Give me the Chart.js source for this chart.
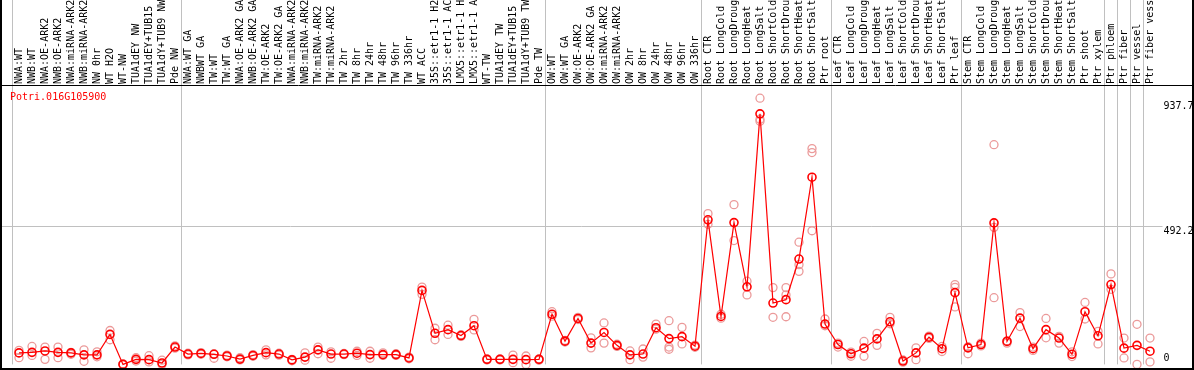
<!DOCTYPE html>
<html>
<head>
<meta charset="utf-8">
<script src="https://cdn.jsdelivr.net/npm/chart.js@4"></script>
<style>
html, body { margin: 0; padding: 0; background: #fff; }
#wrap { width: 1194px; height: 370px; }
</style>
</head>
<body>
<div id="wrap"><canvas id="chart-efp" width="1194" height="370"></canvas></div>
<script>
let geneName = 'Potri.016G105900';

let samples = [
  // NW
  'NWA:WT', 'NWB:WT', 'NWA:OE-ARK2', 'NWB:OE-ARK2', 'NWA:miRNA-ARK2', 'NWB:miRNA-ARK2', 'NW 0hr', 'WT H2O', 'WT-NW',
  'TUA1dEY NW', 'TUA1dEY+TUB15 NW', 'TUA1dY+TUB9 NW', 'Pde NW',
  // TW
  'NWA:WT GA', 'NWBWT GA', 'TW:WT', 'TW:WT GA', 'NWA:OE-ARK2 GA', 'NWB:OE-ARK2 GA', 'TW:OE-ARK2', 'TW:OE-ARK2 GA',
  'NWA:miRNA-ARK2', 'NWB:miRNA-ARK2', 'TW:miRNA-ARK2', 'TW:miRNA-ARK2', 'TW 2hr', 'TW 8hr', 'TW 24hr', 'TW 48hr',
  'TW 96hr', 'TW 336hr', 'WT ACC', '35S::etr1-1 H2O', '35S::etr1-1 ACC', 'LMX5::etr1-1 H2O', 'LMX5::etr1-1 ACC',
  'WT-TW', 'TUA1dEY TW', 'TUA1dEY+TUB15 TW', 'TUA1dY+TUB9 TW', 'Pde TW',
  // OW
  'OW:WT', 'OW:WT GA', 'OW:OE-ARK2', 'OW:OE-ARK2 GA', 'OW:miRNA-ARK2', 'OW:miRNA-ARK2', 'OW 2hr', 'OW 8hr',
  'OW 24hr', 'OW 48hr', 'OW 96hr', 'OW 336hr',
  // root
  'Root CTR', 'Root LongCold', 'Root LongDrought', 'Root LongHeat', 'Root LongSalt', 'Root ShortCold',
  'Root ShortDrought', 'Root ShortHeat', 'Root ShortSalt', 'Ptr root',
  // leaf
  'Leaf CTR', 'Leaf LongCold', 'Leaf LongDrought', 'Leaf LongHeat', 'Leaf LongSalt', 'Leaf ShortCold',
  'Leaf ShortDrought', 'Leaf ShortHeat', 'Leaf ShortSalt', 'Ptr leaf',
  // stem
  'Stem CTR', 'Stem LongCold', 'Stem LongDrought', 'Stem LongHeat', 'Stem LongSalt', 'Stem ShortCold',
  'Stem ShortDrought', 'Stem ShortHeat', 'Stem ShortSalt', 'Ptr shoot', 'Ptr xylem',
  // single tissues
  'Ptr phloem', 'Ptr fiber', 'Ptr vessel', 'Ptr fiber vessel'
];

let meanValues = [
  41, 43, 48, 43, 41, 34, 34, 107, 0, 18, 17, 5, 62,
  37, 39, 36, 30, 19, 32, 42, 37, 16, 26, 52, 37, 37, 40, 35, 35, 35, 23, 264, 111, 124, 103, 138, 18, 18, 18, 17, 18,
  179, 83, 164, 76, 114, 68, 34, 37, 131, 92, 99, 65,
  516, 171, 506, 277, 894, 219, 231, 376, 668, 144,
  71, 38, 58, 91, 152, 12, 41, 97, 56, 256,
  59, 71, 505, 82, 165, 56, 124, 94, 36, 188, 102,
  285, 58, 68, 47
];

// replicate values (pale circles)
let repHigh = [
  50, 64, 62, 62, 43, 52, 45, 121, 2, 24, 31, 15, 66,
  40, 42, 38, 33, 24, 35, 52, 40, 18, 41, 62, 45, 39, 47, 47, 41, 38, 26, 276, 129, 140, 106, 161, 20, 20, 33, 30, 20,
  188, 86, 168, 95, 148, 72, 48, 55, 144, 156, 132, 69,
  538, 179, 570, 297, 950, 274, 274, 436, 770, 162,
  76, 44, 82, 111, 168, 16, 59, 101, 64, 285,
  63, 76, 784, 84, 185, 62, 164, 100, 45, 221, 118,
  323, 94, 143, 94
];

let repLow = [
  24, 32, 18, 24, 36, 11, 27, 88, 0, 12, 9, 0, 58,
  34, 36, 22, 27, 16, 29, 34, 33, 13, 15, 38, 22, 35, 32, 22, 32, 32, 20, 250, 88, 107, 100, 123, 16, 16, 6, 0, 15,
  172, 80, 160, 59, 76, 64, 17, 26, 126, 62, 73, 61,
  500, 165, 442, 248, 868, 168, 170, 332, 477, 138,
  62, 29, 29, 68, 145, 8, 17, 93, 46, 205,
  38, 66, 238, 76, 135, 50, 95, 76, 28, 162, 73,
  268, 23, 0, 9
];

let repThird = [
  null, null, null, null, null, null, null, null, null, null, null, null, null,
  null, null, null, null, null, null, null, null, null, null, null, null, null, null,
  null, null, null, null, null, null, null, null, null, null, null, null, null, null,
  null, null, null, null, null, null, null, null, null, 54, null, null,
  null, null, null, null, 875, null, 248, 356, 756, null,
  null, null, null, null, null, null, null, null, null, 275,
  null, null, 489, null, null, null, null, null, null, null, null,
  null, null, null, null
];

// category index where each sample group starts (and the end)
let groupEdges = [0, 13, 41, 53, 63, 73, 84, 85, 86, 87, 88];

let yTickValues = [0, 492.2, 937.7];
let yTickLabels = ['0', '492.2', '937.7'];

let monoFont = '"DejaVu Sans Mono", "Liberation Mono", monospace';

// frame, gene name, middle grid line and right-hand value labels
let efpDecor = {
  id: 'efpDecor',
  beforeDatasetsDraw(chart) {
    let ctx = chart.ctx;
    let area = chart.chartArea;
    let ys = chart.scales.y;
    let gy = Math.round(ys.getPixelForValue(yTickValues[1])) + 0.5;
    ctx.save();
    ctx.strokeStyle = '#c0c0c0';
    ctx.lineWidth = 1;
    ctx.beginPath();
    ctx.moveTo(0, gy);
    ctx.lineTo(area.right + 6, gy);
    ctx.stroke();
    ctx.restore();
  },
  afterDraw(chart) {
    let ctx = chart.ctx;
    let area = chart.chartArea;
    let ys = chart.scales.y;
    let w = chart.width, h = chart.height;
    ctx.save();
    ctx.strokeStyle = '#000';
    ctx.lineWidth = 1;
    ctx.beginPath();
    ctx.moveTo(0, area.top + 0.5);
    ctx.lineTo(w, area.top + 0.5);
    ctx.stroke();
    ctx.lineWidth = 2;
    ctx.beginPath();
    ctx.moveTo(0, h - 1);
    ctx.lineTo(w, h - 1);
    ctx.moveTo(1, 0);
    ctx.lineTo(1, h);
    ctx.moveTo(w - 1, 0);
    ctx.lineTo(w - 1, h);
    ctx.stroke();

    ctx.font = '10px ' + monoFont;
    ctx.fillStyle = '#ff0000';
    ctx.textAlign = 'left';
    ctx.textBaseline = 'middle';
    ctx.fillText(geneName, 10, area.top + 12.5);

    ctx.fillStyle = '#000';
    ctx.textBaseline = 'top';
    yTickValues.forEach(function (v, i) {
      let py = Math.min(ys.getPixelForValue(v), area.bottom - 11);
      ctx.fillText(yTickLabels[i], area.right + 7, py);
    });
    ctx.restore();
  }
};

function efpChart(element) {
  let data = {
    labels: samples,
    datasets: [
      {
        data: meanValues,
        borderColor: '#ff0000',
        borderWidth: 1.2,
        pointRadius: 4,
        pointBorderWidth: 1.6,
        pointBorderColor: '#ff0000',
        pointBackgroundColor: 'rgba(0,0,0,0)',
        clip: false,
        tension: 0
      },
      {
        data: repHigh,
        showLine: false,
        pointRadius: 4,
        pointBorderWidth: 1.3,
        pointBorderColor: '#eb9a9a',
        pointBackgroundColor: 'rgba(0,0,0,0)',
        clip: false
      },
      {
        data: repLow,
        showLine: false,
        pointRadius: 4,
        pointBorderWidth: 1.3,
        pointBorderColor: '#eb9a9a',
        pointBackgroundColor: 'rgba(0,0,0,0)',
        clip: false
      },
      {
        data: repThird,
        showLine: false,
        pointRadius: 4,
        pointBorderWidth: 1.3,
        pointBorderColor: '#eb9a9a',
        pointBackgroundColor: 'rgba(0,0,0,0)',
        clip: false
      }
    ]
  };

  return new Chart(element, {
    type: 'line',
    data: data,
    plugins: [efpDecor],
    options: {
      responsive: false,
      animation: false,
      layout: { padding: { left: 12.5, right: 0, top: 0, bottom: 2 } },
      plugins: {
        legend: { display: false },
        tooltip: { enabled: false },
        title: { display: false }
      },
      scales: {
        x: {
          type: 'category',
          position: 'top',
          offset: true,
          afterFit: function (s) { s.height = 85; },
          border: { display: false },
          grid: {
            offset: true,
            drawOnChartArea: true,
            drawTicks: true,
            tickLength: 85,
            lineWidth: 1,
            color: function (c) {
              return groupEdges.includes(c.index) ? '#c0c0c0' : 'rgba(0,0,0,0)';
            }
          },
          ticks: {
            autoSkip: false,
            minRotation: 90,
            maxRotation: 90,
            padding: -84,
            // rotated labels on a top axis sit one line-height left of the tick
            labelOffset: 12.5,
            color: '#000',
            font: { family: monoFont, size: 10 }
          }
        },
        y: {
          type: 'linear',
          position: 'right',
          min: 0,
          max: 997,
          afterFit: function (s) { s.width = 37.5; },
          border: { display: false },
          grid: { display: false },
          ticks: { display: false }
        }
      }
    }
  });
}

efpChart(document.getElementById('chart-efp'));
</script>
</body>
</html>
